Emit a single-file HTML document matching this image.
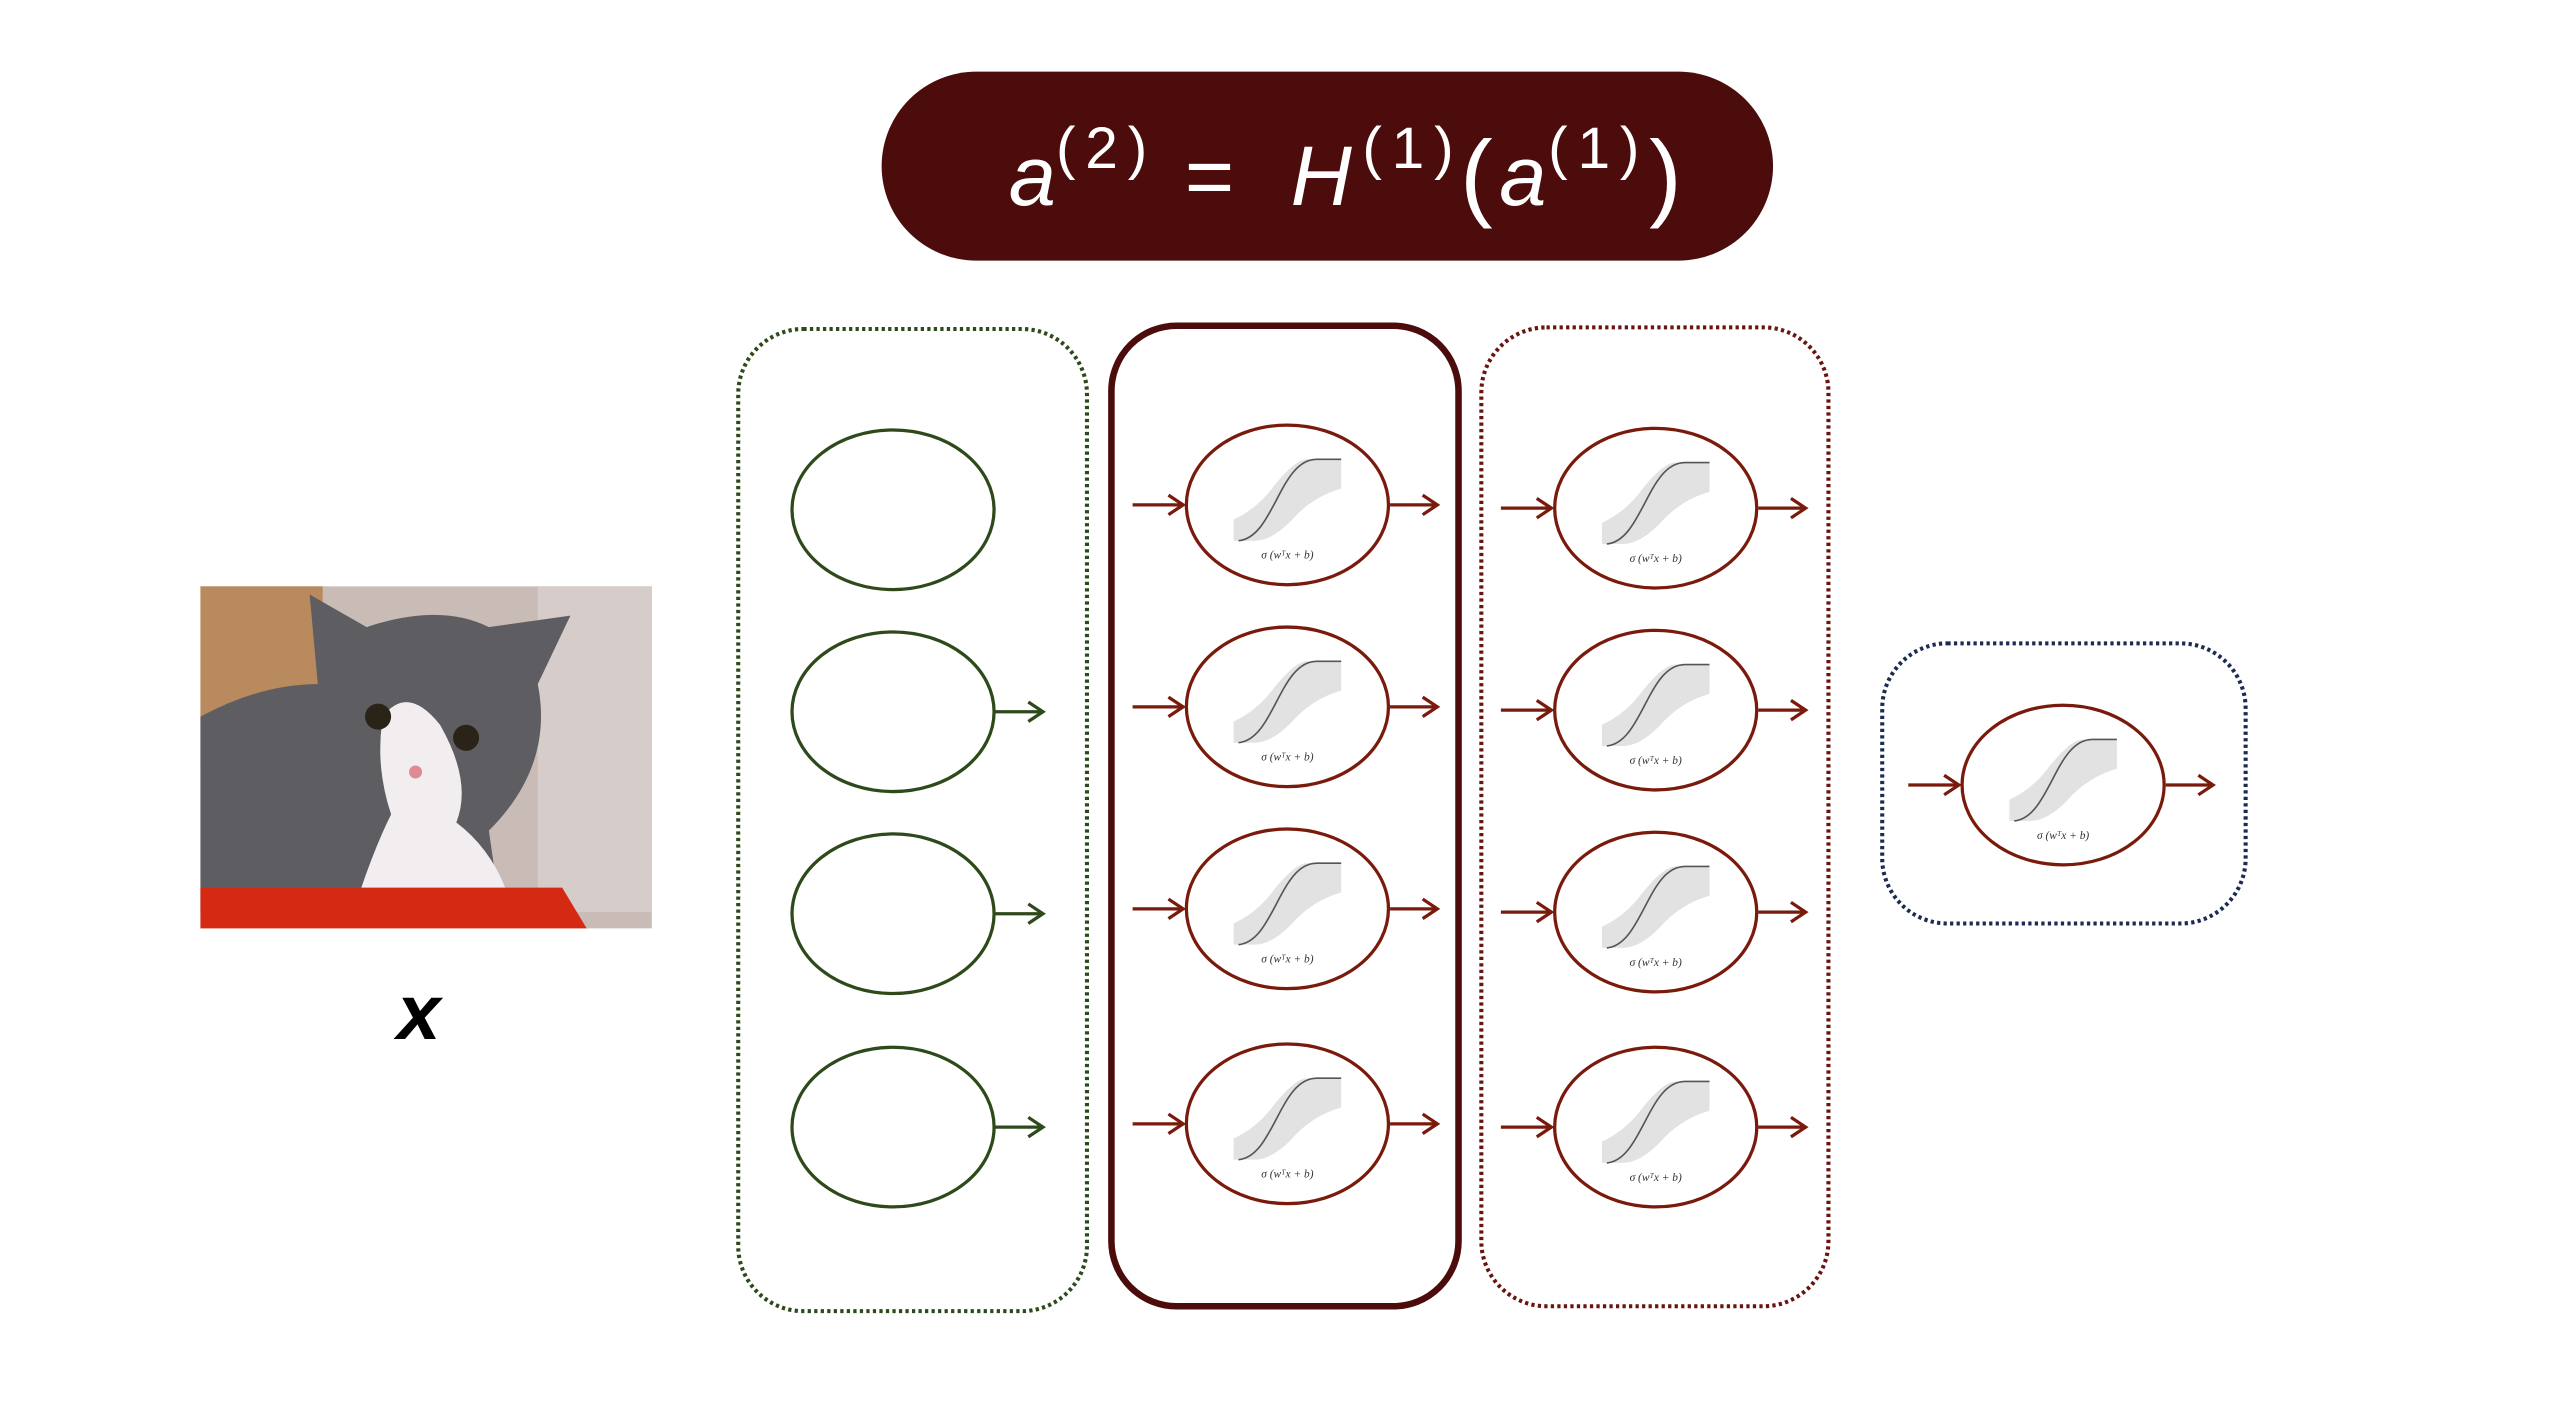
<!DOCTYPE html>
<html><head><meta charset="utf-8"><style>
html,body{margin:0;padding:0;background:#fff;}
svg{display:block;}
</style></head><body>
<svg id="dia" width="2552" height="1417" viewBox="0 0 1566 870" preserveAspectRatio="none" xmlns="http://www.w3.org/2000/svg">
<g>
<rect x="541" y="44" width="547" height="116" rx="58" fill="#4b0c0b"/>
<text x="619" y="126" fill="#fff" font-family="Liberation Sans, sans-serif" font-size="52" font-style="italic">a</text>
<text x="648" y="103" fill="#fff" font-family="Liberation Sans, sans-serif" font-size="36" textLength="56">(2)</text>
<text x="727" y="126" fill="#fff" font-family="Liberation Sans, sans-serif" font-size="52">=</text>
<text x="792" y="126" fill="#fff" font-family="Liberation Sans, sans-serif" font-size="52" font-style="italic">H</text>
<text x="836" y="103" fill="#fff" font-family="Liberation Sans, sans-serif" font-size="36" textLength="56">(1)</text>
<text x="896" y="128" fill="#fff" font-family="Liberation Sans, sans-serif" font-size="60">(</text>
<text x="920" y="126" fill="#fff" font-family="Liberation Sans, sans-serif" font-size="52" font-style="italic">a</text>
<text x="950" y="103" fill="#fff" font-family="Liberation Sans, sans-serif" font-size="36" textLength="56">(1)</text>
<text x="1012" y="128" fill="#fff" font-family="Liberation Sans, sans-serif" font-size="60">)</text>
</g>
<g>
<rect x="123" y="360" width="277" height="210" fill="#c9bcb6"/>
<rect x="123" y="360" width="75" height="110" fill="#b88a5e"/>
<rect x="330" y="360" width="70" height="200" fill="#d6cdca"/>
<path d="M123 440 Q160 420 195 420 L190 365 L225 385 Q270 370 300 385 L350 378 L330 420 Q340 470 300 510 L305 545 L123 560 Z" fill="#5e5e62"/>
<path d="M235 440 Q250 420 270 445 Q290 480 280 505 Q300 520 310 545 L220 550 Q230 520 240 500 Q230 470 235 440 Z" fill="#f2eef0"/>
<circle cx="232" cy="440" r="8" fill="#2a2418"/>
<circle cx="286" cy="453" r="8" fill="#2a2418"/>
<circle cx="255" cy="474" r="4" fill="#e08a96"/>
<path d="M123 545 L345 545 L360 570 L123 570 Z" fill="#d42a14"/>
</g>
<text x="257" y="638" text-anchor="middle" font-family="Liberation Sans, sans-serif" font-size="48" font-weight="bold" font-style="italic">x</text>
<rect x="453" y="202" width="214" height="603" rx="40" fill="none" stroke="#2e4a1b" stroke-width="2.5" stroke-dasharray="2 2"/>
<rect x="682" y="200" width="213" height="602" rx="40" fill="none" stroke="#4b0c0b" stroke-width="4"/>
<rect x="909" y="201" width="213" height="601" rx="40" fill="none" stroke="#6a1410" stroke-width="2.5" stroke-dasharray="2 2"/>
<rect x="1155" y="395" width="223" height="172" rx="40" fill="none" stroke="#1b2b52" stroke-width="2.5" stroke-dasharray="2 2"/>
<g id="nodes"></g>
</svg>
<script>
const inputCx = 548;
const inputCys = [313, 437, 561, 692];
const inputArrows = [false, true, true, true];
const hidden1Cx = 790;
const hidden1Cys = [310, 434, 558, 690];
const hidden2Cx = 1016;
const hidden2Cys = [312, 436, 560, 692];
const outputCx = 1266;
const outputCys = [482];
const NS = 'http://www.w3.org/2000/svg';
const g = document.getElementById('nodes');
function mk(tag, attrs, parent) {
  const e = document.createElementNS(NS, tag);
  for (const k in attrs) e.setAttribute(k, attrs[k]);
  parent.appendChild(e);
  return e;
}
function arrow(x1, x2, y, col, parent) {
  const a = mk('g', {}, parent);
  
  
  mk('line', {x1: x1, y1: y, x2: x2, y2: y, stroke: col, 'stroke-width': 2}, a);
  mk('polyline', {points: (x2-9)+','+(y-6)+' '+x2+','+y+' '+(x2-9)+','+(y+6), fill: 'none', stroke: col, 'stroke-width': 2}, a);
}
function neuron(cx, cy, name) {
  const n = mk('g', {}, g);
  
  
  const col = '#7a1a0c';
  mk('path', {d: 'M'+(cx-33)+' '+(cy+22)+' L'+(cx-33)+' '+(cy+9)+' Q'+(cx-18)+' '+(cy+2)+' '+(cx-8)+' '+(cy-12)+' Q'+(cx+5)+' '+(cy-28)+' '+(cx+12)+' '+(cy-28)+' L'+(cx+33)+' '+(cy-28)+' L'+(cx+33)+' '+(cy-10)+' Q'+(cx+15)+' '+(cy-5)+' '+(cx+2)+' '+(cy+10)+' Q'+(cx-10)+' '+(cy+22)+' '+(cx-20)+' '+(cy+22)+' Z', fill: '#e2e2e2'}, n);
  mk('path', {d: 'M'+(cx-30)+' '+(cy+22)+' C'+(cx-8)+' '+(cy+20)+' '+(cx-5)+' '+(cy-28)+' '+(cx+18)+' '+(cy-28)+' L'+(cx+33)+' '+(cy-28), fill: 'none', stroke: '#555', 'stroke-width': 1}, n);
  const t = mk('text', {x: cx, y: cy + 33, 'text-anchor': 'middle', 'font-family': 'Liberation Serif, serif', 'font-size': 7, 'font-style': 'italic', fill: '#333'}, n);
  t.textContent = 'σ (wᵀx + b)';
  mk('ellipse', {cx: cx, cy: cy, rx: 62, ry: 49, fill: 'none', stroke: col, 'stroke-width': 2}, n);
  arrow(cx - 95, cx - 64, cy, col, n);
  arrow(cx + 63, cx + 92, cy, col, n);
}
inputCys.forEach(function (cy, i) {
  const n = mk('g', {}, g);
  
  
  mk('ellipse', {cx: inputCx, cy: cy, rx: 62, ry: 49, fill: 'none', stroke: '#2e4a1b', 'stroke-width': 2}, n);
  if (inputArrows[i]) arrow(inputCx + 62, inputCx + 92, cy, '#2e4a1b', n);
});
hidden1Cys.forEach(function (cy) { neuron(hidden1Cx, cy, 'hidden-1-neuron'); });
hidden2Cys.forEach(function (cy) { neuron(hidden2Cx, cy, 'hidden-2-neuron'); });
outputCys.forEach(function (cy) { neuron(outputCx, cy, 'output-neuron'); });
</script>
</body></html>
